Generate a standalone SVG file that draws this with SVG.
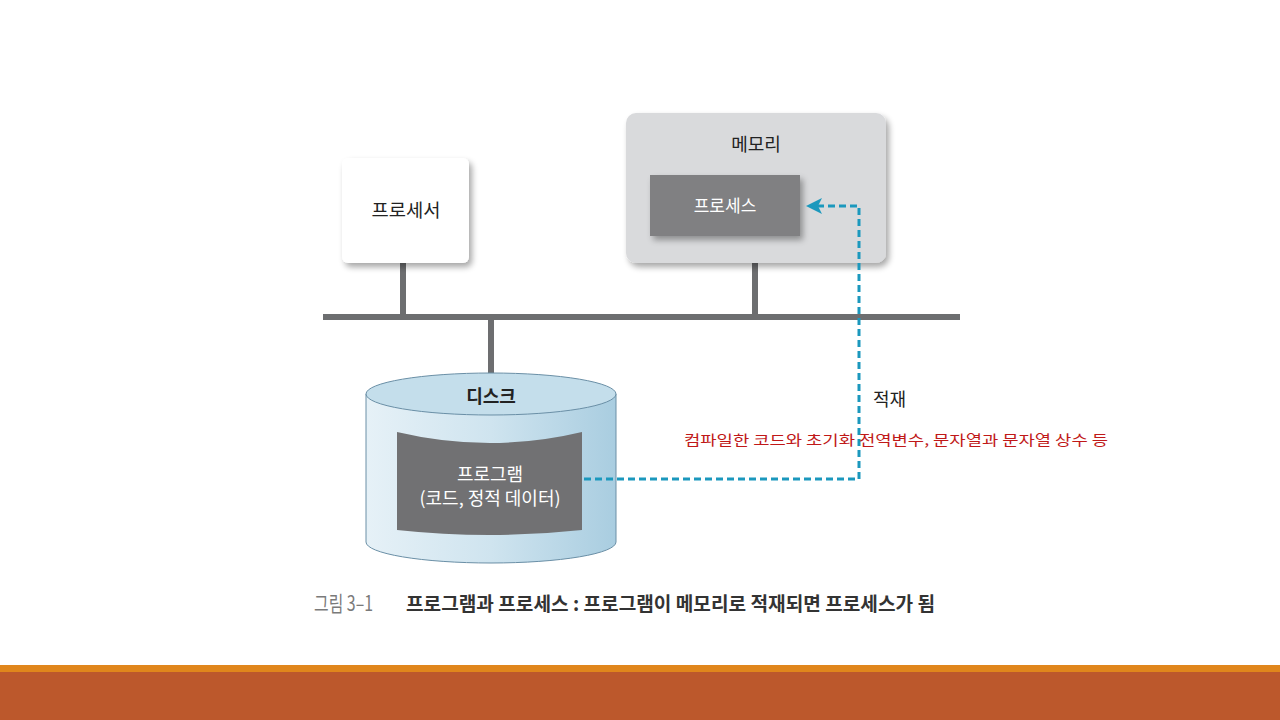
<svg xmlns="http://www.w3.org/2000/svg" width="1280" height="720" viewBox="0 0 1280 720">
<defs>
<style>
.t{font-family:"Noto Sans CJK KR","Noto Sans",sans-serif;}
.bus{stroke:#6d6e70;stroke-width:6;fill:none;}
.dash{stroke:#1b98bd;stroke-width:3;fill:none;stroke-dasharray:7 4;}
</style>
<filter id="sh" x="-20%" y="-20%" width="150%" height="150%">
<feGaussianBlur in="SourceAlpha" stdDeviation="3"/>
<feOffset dx="3" dy="4"/>
<feComponentTransfer><feFuncA type="linear" slope="0.35"/></feComponentTransfer>
<feMerge><feMergeNode/><feMergeNode in="SourceGraphic"/></feMerge>
</filter>
<linearGradient id="cyl" x1="0" x2="1" y1="0" y2="0">
<stop offset="0" stop-color="#e6f1f7"/>
<stop offset="0.5" stop-color="#cfe4ef"/>
<stop offset="1" stop-color="#a9cde0"/>
</linearGradient>
</defs>
<rect width="1280" height="720" fill="#ffffff"/>
<rect x="0" y="665" width="1280" height="7" fill="#e0861c"/>
<rect x="0" y="672" width="1280" height="48" fill="#bc582c"/>

<g id="connectors">
<line class="bus" x1="323" y1="317" x2="960" y2="317"/>
<line class="bus" x1="403" y1="262" x2="403" y2="317"/>
<line class="bus" x1="755" y1="262" x2="755" y2="317"/>
<line class="bus" x1="491" y1="317" x2="491" y2="375"/>
</g>

<g id="processor">
<rect x="342" y="158" width="127" height="105" rx="6" fill="#ffffff" filter="url(#sh)"/>
<text class="t" x="406" y="217" font-size="18" text-anchor="middle" fill="#222" textLength="69" lengthAdjust="spacingAndGlyphs">프로세서</text>
</g>

<g id="memory">
<rect x="626" y="113" width="260" height="150" rx="10" fill="#d9dadc" filter="url(#sh)"/>
<text class="t" x="756" y="151" font-size="18" text-anchor="middle" fill="#222">메모리</text>
</g>

<g id="process">
<rect x="650" y="175" width="150" height="61" fill="#808082" filter="url(#sh)"/>
<text class="t" x="725" y="212" font-size="17" text-anchor="middle" fill="#ffffff">프로세스</text>
</g>

<g id="disk">
<path d="M366,394 L366,542 A125,21 0 0 0 616,542 L616,394 Z" fill="url(#cyl)" stroke="#6a8fa6" stroke-width="1"/>
<ellipse cx="491" cy="394" rx="125" ry="21" fill="#c4deeb" stroke="#6a8fa6" stroke-width="1"/>
<text class="t" x="491" y="403" font-size="18" font-weight="bold" text-anchor="middle" fill="#222">디스크</text>
</g>

<g id="program">
<path d="M397,432 Q490,454 582,432 L582,530 Q490,540 397,530 Z" fill="#717173"/>
<text class="t" x="490" y="481" font-size="18" text-anchor="middle" fill="#ffffff">프로그램</text>
<text class="t" x="490" y="505" font-size="18" text-anchor="middle" fill="#ffffff">(코드, 정적 데이터)</text>
</g>

<g id="load-arrow">
<path class="dash" d="M584,479 L859,479 L859,206 L818,206"/>
<polygon points="806,206 822,198 818,206 822,214" fill="#1b98bd"/>
<text class="t" x="873" y="406" font-size="18" fill="#222">적재</text>
</g>

<g id="note">
<text class="t" x="684" y="445" font-size="14" fill="#c01818" textLength="424" lengthAdjust="spacingAndGlyphs">컴파일한 코드와 초기화 전역변수, 문자열과 문자열 상수 등</text>
</g>

<g id="caption">
<text class="t" x="314" y="611" font-size="21" fill="#7a7a7a" textLength="59" lengthAdjust="spacingAndGlyphs">그림 3–1</text>
<text class="t" x="406" y="611" font-size="19" font-weight="bold" fill="#333" textLength="529" lengthAdjust="spacingAndGlyphs">프로그램과 프로세스 : 프로그램이 메모리로 적재되면 프로세스가 됨</text>
</g>
</svg>
